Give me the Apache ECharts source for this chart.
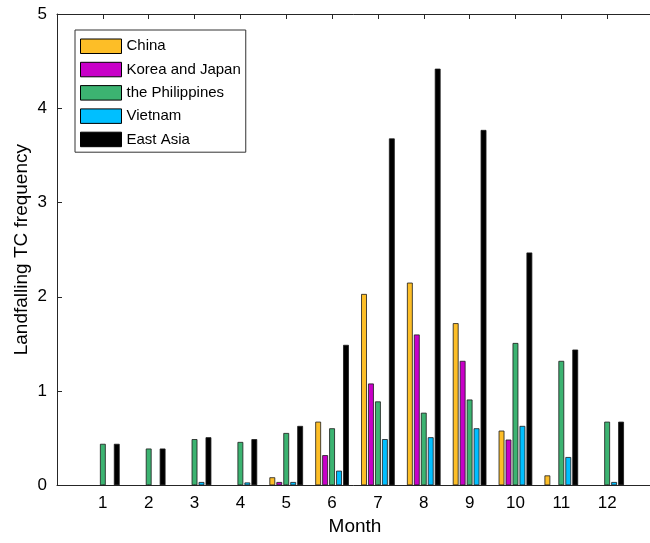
<!DOCTYPE html>
<html>
<head>
<meta charset="utf-8">
<script src="https://cdn.jsdelivr.net/npm/echarts@6/dist/echarts.min.js"></script>
<style>html,body{margin:0;padding:0;background:#fff}#c{width:650px;height:543px}</style>
</head>
<body>
<div id="c"></div>
<script>
const months = ['1','2','3','4','5','6','7','8','9','10','11','12'];
const seriesNames = ['China','Korea and Japan','the Philippines','Vietnam','East Asia'];
const china    = [0, 0, 0, 0, 0.085, 0.675, 2.03, 2.15, 1.72, 0.58, 0.105, 0];
const koreaJap = [0, 0, 0, 0, 0.035, 0.32, 1.08, 1.60, 1.32, 0.485, 0, 0];
const phil     = [0.44, 0.39, 0.49, 0.46, 0.555, 0.605, 0.89, 0.77, 0.91, 1.51, 1.32, 0.675];
const vietnam  = [0, 0, 0.035, 0.03, 0.035, 0.155, 0.49, 0.51, 0.605, 0.63, 0.30, 0.035];
const eastAsia = [0.44, 0.39, 0.51, 0.49, 0.63, 1.49, 3.68, 4.42, 3.77, 2.47, 1.44, 0.675];
const yTicks = [0, 1, 2, 3, 4, 5];

const colors = ['#FDBE27', '#C800C8', '#3CB371', '#00BFFF', '#000000'];
const values = [china, koreaJap, phil, vietnam, eastAsia];
const FONT = '"Liberation Sans", Arial, Helvetica, sans-serif';
const AX = '#262626';

// category axis spans 0..13 (boundaryGap false), months at 1..12
const cats = [''].concat(months).concat(['']);
const tickFn = (i) => i > 0 && i < 13;

const chart = echarts.init(document.getElementById('c'), null, {renderer: 'canvas'});
chart.setOption({
  animation: false,
  backgroundColor: '#fff',
  textStyle: {fontFamily: FONT},
  grid: {left: 57, top: 14, right: -3, bottom: 57.7, containLabel: false, outerBoundsMode: 'none'},
  legend: {
    orient: 'vertical', left: 75, top: 30,
    data: seriesNames,
    itemWidth: 41, itemHeight: 14.5, itemGap: 7.8,
    padding: [8.5, 5, 5, 5],
    borderColor: '#333', borderWidth: 1, backgroundColor: '#fff',
    icon: 'rect',
    itemStyle: {borderColor: '#000', borderWidth: 1},
    textStyle: {fontFamily: FONT, fontSize: 15, color: '#000'}
  },
  xAxis: [{
    type: 'category', data: cats, boundaryGap: false, position: 'bottom',
    name: 'Month', nameLocation: 'middle', nameGap: 32, nameMoveOverlap: false,
    nameTextStyle: {fontFamily: FONT, fontSize: 19, color: '#000'},
    axisLine: {show: true, lineStyle: {color: AX, width: 1}},
    axisTick: {show: true, inside: true, length: 5, interval: tickFn, lineStyle: {color: AX}},
    axisLabel: {show: true, interval: 0, margin: 10, fontFamily: FONT, fontSize: 17, color: '#000'},
    splitLine: {show: false}
  }, {
    type: 'category', data: cats, boundaryGap: false, position: 'top',
    axisLine: {show: true, lineStyle: {color: AX, width: 1}},
    axisTick: {show: true, inside: true, length: 5, interval: tickFn, lineStyle: {color: AX}},
    axisLabel: {show: false},
    splitLine: {show: false}
  }],
  yAxis: [{
    type: 'value', min: yTicks[0], max: yTicks[yTicks.length - 1], interval: 1,
    name: 'Landfalling TC frequency', nameLocation: 'middle', nameGap: 26, nameMoveOverlap: false,
    nameTextStyle: {fontFamily: FONT, fontSize: 19, color: '#000'},
    axisLine: {show: true, lineStyle: {color: AX, width: 1}},
    axisTick: {show: true, inside: true, length: 5, lineStyle: {color: AX}},
    axisLabel: {margin: 10, fontFamily: FONT, fontSize: 17, color: '#000'},
    splitLine: {show: false}
  }],
  series: seriesNames.map((n, k) => ({
    name: n, type: 'bar', xAxisIndex: 0, yAxisIndex: 0,
    data: ['-'].concat(values[k].map(v => v === 0 ? '-' : v)).concat(['-']),
    barWidth: 5.8, barGap: '20%',
    itemStyle: {color: colors[k], borderColor: '#1a1a1a', borderWidth: 0.8},
    emphasis: {disabled: true}
  }))
});
</script>
</body>
</html>
